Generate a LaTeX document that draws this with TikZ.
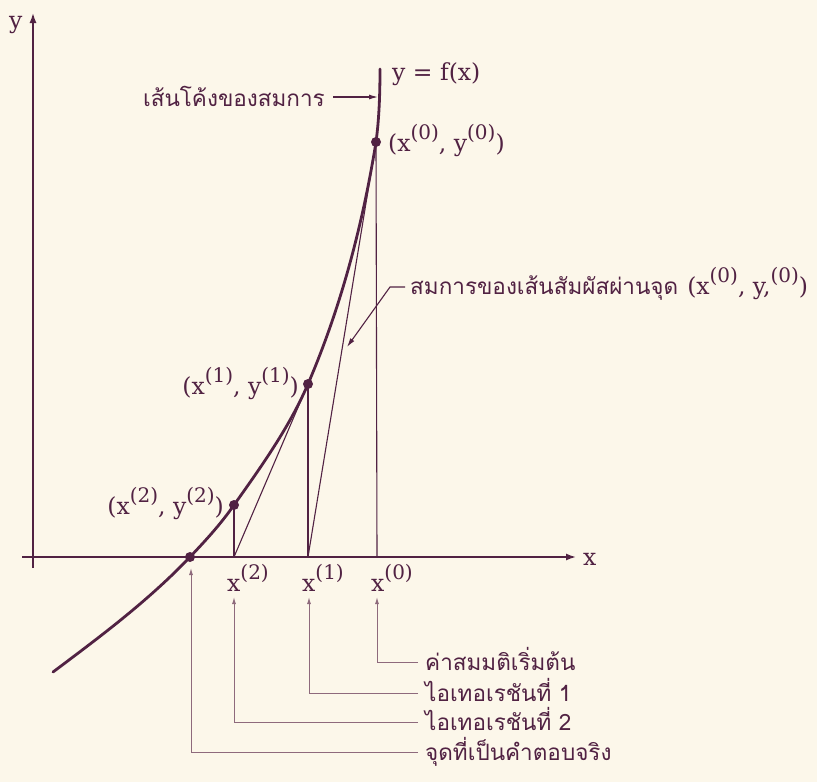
\documentclass[tikz,border=0pt]{standalone}
\usepackage{fontspec}
\setmainfont{DejaVu Serif}
\newfontfamily\thaifont[Script=Thai]{Loma}
\usetikzlibrary{arrows.meta}
\definecolor{bg}{HTML}{FCF7EA}
\definecolor{ink}{HTML}{512243}
\definecolor{lead}{HTML}{8E6A7C}
\newcommand\sps[1]{\raisebox{0.48em}{\fontsize{20}{20}\selectfont #1}}
\begin{document}
\begin{tikzpicture}[x=1pt,y=-1pt,
  thaitxt/.style={font=\thaifont\fontsize{22.5}{24}\selectfont, text=ink, inner sep=0pt},
  lat/.style={font=\fontsize{23.5}{24}\selectfont, text=ink, inner sep=0pt},
  axisline/.style={draw=ink, line width=1.5pt, -{Latex[length=10pt,width=7pt]}},
  curveline/.style={draw=ink, line width=2.8pt, line cap=round},
  thinline/.style={draw=ink, line width=1.1pt},
  leaderline/.style={draw=lead, line width=1pt, -{Latex[length=7pt,width=4pt]}},
  inkarrow/.style={draw=ink, line width=1.1pt, -{Latex[length=9pt,width=5pt]}},
  dotmark/.style={circle, fill=ink, inner sep=0pt, minimum size=10pt}]
\fill[bg] (0,0) rectangle (817,782);
\useasboundingbox (0,0) rectangle (817,782);

% axes
\coordinate (ybot) at (33,568);
\coordinate (ytop) at (33,13);
\coordinate (xleft) at (22,557);
\coordinate (xright) at (576,557);
\draw[axisline] (ybot) -- (ytop);
\draw[axisline] (xleft) -- (xright);
\node[lat, anchor=base west] (ylab) at (9,28) {y};
\node[lat, anchor=base west] (xlab) at (583,565) {x};

% key points
\coordinate (R) at (190,557);
\coordinate (P2) at (234,505);
\coordinate (P1) at (308,384);
\coordinate (P0) at (376,142);
\coordinate (X2) at (234,557);
\coordinate (X1) at (308,557);
\coordinate (X0) at (377,557);
\coordinate (Cstart) at (53,672);
\coordinate (Cend) at (380,69);

% verticals and tangents
\draw[thinline] (P0) -- (X0);
\draw[thinline] (P1) -- (X1);
\draw[thinline] (P2) -- (X2);
\draw[thinline] (P0) -- (X1);
\draw[thinline] (P1) -- (X2);

% curve
\draw[curveline] (Cstart) .. controls (101,636) and (148,601) .. (R)
  .. controls (206,540) and (220,525) .. (P2)
  .. controls (261,467) and (289.5,427) .. (P1)
  .. controls (341,307) and (362.6,225) .. (P0)
  .. controls (379,120) and (380,95) .. (Cend);

% dots
\node[dotmark] (dR) at (R) {};
\node[dotmark] (d2) at (P2) {};
\node[dotmark] (d1) at (P1) {};
\node[dotmark] (d0) at (P0) {};

% point labels
\node[lat, anchor=base west] (fx) at (392,80) {y = f(x)};
\node[lat, anchor=base west] (L0) at (388,151) {(x\sps{(0)}, y\sps{(0)})};
\node[lat, anchor=base east] (L1) at (299,394) {(x\sps{(1)}, y\sps{(1)})};
\node[lat, anchor=base east] (L2) at (224,514) {(x\sps{(2)}, y\sps{(2)})};

% x labels
\node[lat, anchor=base west] (x2lab) at (227,591) {x\sps{(2)}};
\node[lat, anchor=base west] (x1lab) at (302,591) {x\sps{(1)}};
\node[lat, anchor=base west] (x0lab) at (371,591) {x\sps{(0)}};

% curve label
\node[thaitxt, anchor=base east] (curvelab) at (325,106) {เส้นโค้งของสมการ};
\coordinate (curvehit) at (378,97);
\draw[inkarrow] (curvelab.east |- curvehit) ++(8,0) -- (curvehit);

% tangent label
\node[thaitxt, anchor=base west] (tanlab) at (410,294) {สมการของเส้นสัมผัสผ่านจุด\hspace{0.4em}{\rmfamily\fontsize{23.5}{24}\selectfont (x\sps{(0)}, y,\sps{(0)})}};
\coordinate (tanbend) at (390,287);
\coordinate (tantip) at (347,347);
\draw[inkarrow] (405,287) -- (tanbend) -- (tantip);

% bottom leaders
\coordinate (t0) at (377,597);
\coordinate (t1) at (309,597);
\coordinate (t2) at (234,597);
\coordinate (tR) at (191,568);
\node[thaitxt, anchor=base west] (b0) at (425,670) {ค่าสมมติเริ่มต้น};
\node[thaitxt, anchor=base west] (b1) at (425,701) {ไอเทอเรชันที่ 1};
\node[thaitxt, anchor=base west] (b2) at (425,730) {ไอเทอเรชันที่ 2};
\node[thaitxt, anchor=base west] (b3) at (425,760) {จุดที่เป็นคำตอบจริง};
\coordinate (e0) at (418,662);
\coordinate (e1) at (418,693);
\coordinate (e2) at (418,722);
\coordinate (e3) at (418,752);
\draw[leaderline] (e0) -| (t0);
\draw[leaderline] (e1) -| (t1);
\draw[leaderline] (e2) -| (t2);
\draw[leaderline] (e3) -| (tR);
\end{tikzpicture}
\end{document}
